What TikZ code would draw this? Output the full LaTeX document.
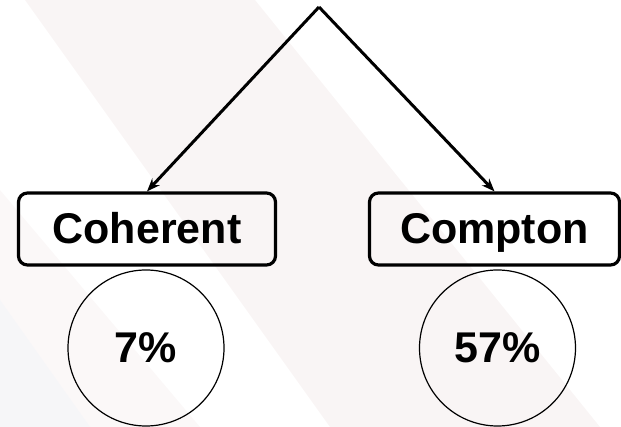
\documentclass[tikz,border=0pt]{standalone}
\usepackage{fontspec}
\setmainfont{Liberation Sans}
\usepackage{tikz}
\usetikzlibrary{arrows.meta}

\definecolor{bandpink}{RGB}{249,245,245}
\definecolor{bandgrey}{RGB}{246,246,248}

\tikzset{
  procbox/.style={draw,line width=3.2pt,rounded corners=9pt,inner sep=0pt,
    minimum height=72pt,text height=30pt,text depth=0pt,
    font=\fontsize{43}{50}\selectfont\bfseries},
  ratecirc/.style={draw,circle,line width=1.2pt,minimum size=156pt,inner sep=0pt,
    font=\fontsize{43}{50}\selectfont\bfseries},
  feed/.style={line width=3pt,-{Stealth[length=13pt,width=10pt]}}
}

\begin{document}
\begin{tikzpicture}[x=1pt,y=-1pt]
  \useasboundingbox (0,0) rectangle (621,427);
  % faint slide background
  \fill[bandpink] (25,0) -- (255,0) -- (600,427) -- (330,427) -- cycle;
  \fill[bandpink!70!white] (0,190) -- (0,427) -- (200,427) -- cycle;
  \fill[bandgrey] (0,300) -- (0,427) -- (90,427) -- cycle;

  \coordinate (top) at (319,7);
  \draw (147,229) node[procbox,minimum width=257pt] (coherent) {Coherent};
  \draw (494.5,229) node[procbox,minimum width=250pt] (compton) {Compton};

  \draw (146,348) node[ratecirc] (cohrate) {7\%};
  \draw (497.5,348) node[ratecirc] (comprate) {57\%};

  \path[feed] (top) edge (coherent.north);
  \path[feed] (top) edge (compton.north);
\end{tikzpicture}
\end{document}
